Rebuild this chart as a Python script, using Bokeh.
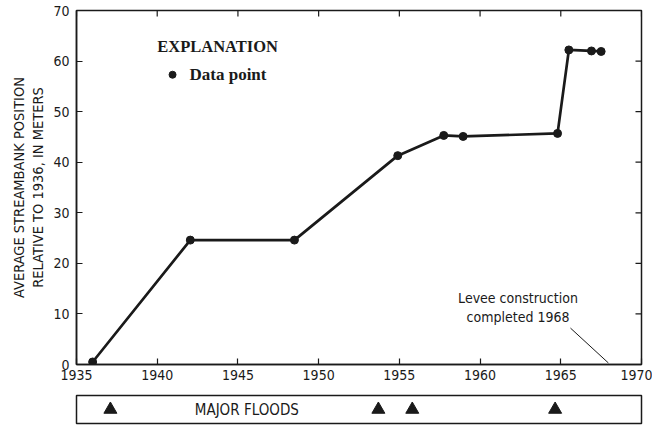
from math import pi
from bokeh.plotting import figure
from bokeh.layouts import column
from bokeh.models import Label, FixedTicker, ColumnDataSource
from bokeh.embed import file_html
from bokeh.resources import INLINE

# ---- data ----
years = [1936.0, 1942.05, 1948.5, 1954.9, 1957.75, 1958.95, 1964.8, 1965.5, 1966.9, 1967.5]
position = [0.5, 24.6, 24.6, 41.3, 45.3, 45.1, 45.7, 62.2, 62.0, 61.9]
flood_years = [1937.1, 1953.7, 1955.8, 1964.65]
x_ticks = [1935, 1940, 1945, 1950, 1955, 1960, 1965, 1970]
y_ticks = [0, 10, 20, 30, 40, 50, 60, 70]
levee_line_x = [1965.6, 1967.95]
levee_line_y = [7.2, 0.3]

SANS = "DejaVu Sans Condensed"
SERIF = "Liberation Serif"
INK = "#1a1a1a"

p = figure(width=652, height=388, x_range=(1935, 1970), y_range=(0, 70),
           output_backend="svg", toolbar_location=None,
           min_border_left=76, min_border_right=11, min_border_top=10, min_border_bottom=24)
p.grid.visible = False
p.outline_line_color = INK
p.outline_line_width = 1.5

for ax in p.xaxis + p.yaxis:
    ax.major_tick_in = 6
    ax.major_tick_out = 0
    ax.minor_tick_line_color = None
    ax.axis_line_color = INK
    ax.axis_line_width = 1.5
    ax.major_tick_line_color = INK
    ax.major_tick_line_width = 1.2
    ax.major_label_text_font = SANS
    ax.major_label_text_font_size = "14px"
    ax.major_label_text_color = INK
p.xaxis.ticker = FixedTicker(ticks=x_ticks)
p.yaxis.ticker = FixedTicker(ticks=y_ticks)
p.xaxis.major_label_standoff = 5
p.yaxis.major_label_standoff = 7
p.yaxis.axis_label = "AVERAGE STREAMBANK POSITION\nRELATIVE TO 1936, IN METERS"
p.yaxis.axis_label_text_font = SANS
p.yaxis.axis_label_text_font_style = "normal"
p.yaxis.axis_label_text_font_size = "14.5px"
p.yaxis.axis_label_text_color = INK
p.yaxis.axis_label_standoff = 4

# inside ticks on top and right edges, from the tick lists
p.ray(x=x_ticks, y=[70] * len(x_ticks), length=6, length_units="screen",
      angle=-pi / 2, line_color=INK, line_width=1.2)
p.ray(x=[1970] * len(y_ticks), y=y_ticks, length=6, length_units="screen",
      angle=pi, line_color=INK, line_width=1.2)

src = ColumnDataSource(dict(x=years, y=position))
p.line("x", "y", source=src, line_color=INK, line_width=2.7)
p.scatter("x", "y", source=src, size=8, color=INK)

# explanation
p.add_layout(Label(x=1940.0, y=62.8, text="EXPLANATION", text_font=SERIF, text_font_style="bold",
                   text_font_size="16.5px", text_color=INK, text_baseline="middle"))
p.scatter([1940.95], [57.3], size=7, color=INK)
p.add_layout(Label(x=1942.0, y=57.3, text="Data point", text_font=SERIF, text_font_style="bold",
                   text_font_size="17px", text_color=INK, text_baseline="middle"))

# levee annotation
p.add_layout(Label(x=1962.35, y=11.2, text="Levee construction\ncompleted 1968", text_font=SANS,
                   text_font_size="14px", text_color=INK, text_align="center", text_baseline="middle"))
p.line(levee_line_x, levee_line_y, line_color=INK, line_width=1)

# floods strip
q = figure(width=652, height=37, x_range=p.x_range, y_range=(0, 1),
           output_backend="svg", toolbar_location=None, x_axis_type=None, y_axis_type=None,
           min_border_left=76, min_border_right=11, min_border_top=7, min_border_bottom=2)
q.grid.visible = False
q.outline_line_color = INK
q.outline_line_width = 1.5
q.scatter(flood_years, [0.5] * len(flood_years), marker="triangle", size=13, color=INK)
q.add_layout(Label(x=1945.55, y=0.5, text="MAJOR FLOODS", text_font=SANS, text_font_size="15px",
                   text_color=INK, text_align="center", text_baseline="middle"))

layout = column(p, q, spacing=0)
open("out.html", "w").write(file_html(layout, INLINE))
